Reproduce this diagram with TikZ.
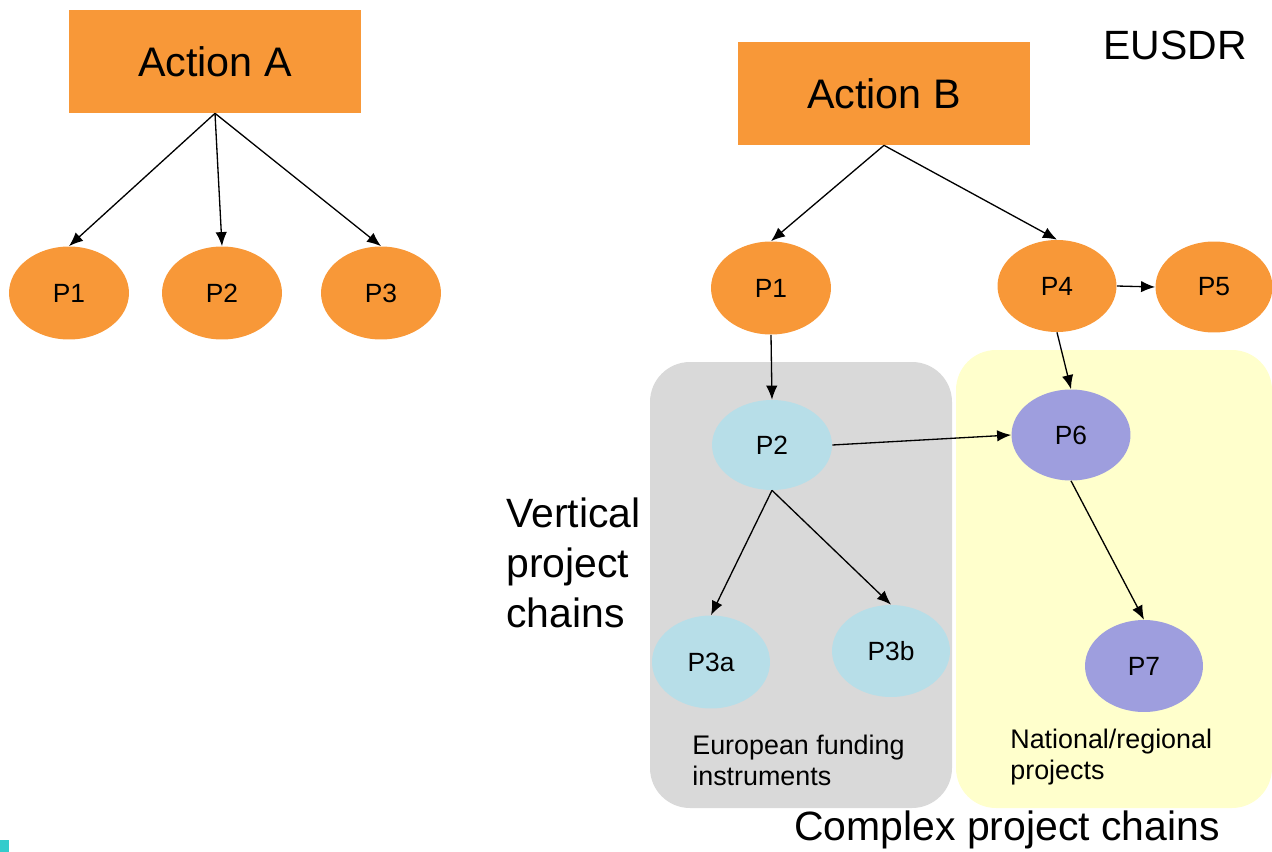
\documentclass[tikz,border=0pt]{standalone}
\usepackage{fontspec}
\setmainfont{Liberation Sans}
\usetikzlibrary{arrows.meta, positioning, shapes.geometric}
\definecolor{actorange}{RGB}{248,152,56}
\definecolor{eugrey}{RGB}{217,217,217}
\definecolor{natyellow}{RGB}{255,255,204}
\definecolor{eucyan}{RGB}{183,222,232}
\definecolor{natpurple}{RGB}{158,158,222}
\definecolor{markcyan}{RGB}{51,204,204}

\begin{document}
\begin{tikzpicture}[x=0.02cm, y=-0.02cm,
    action/.style={fill=actorange, minimum width=5.84cm, minimum height=2.06cm, inner sep=0, font=\fontsize{23.5}{28}\selectfont},
    proj/.style={ellipse, fill=actorange, minimum width=2.4cm, minimum height=1.86cm, inner sep=0, font=\fontsize{15}{18}\selectfont},
    link/.style={-{Latex[length=8pt,width=6.5pt]}, line width=0.75pt},
    big/.style={inner sep=0, font=\fontsize{23.3}{28.3}\selectfont},
    note/.style={align=left, anchor=west, inner sep=0, font=\fontsize{15.3}{17.6}\selectfont}]
    \useasboundingbox (0,0) rectangle (1272,852);

    % Background groups
    \fill[eugrey, rounded corners=0.8cm] (650,362) rectangle (952,808);
    \fill[natyellow, rounded corners=0.8cm] (956,350) rectangle (1272,808);
    \fill[markcyan] (0,840) rectangle (9,852);

    % Action A and its projects
    \node[action] (actA) at (215,61.5) {Action A};
    \node[proj] (p1a) at (69,293) {P1};
    \node[proj] (p2a) at (222,293) {P2};
    \node[proj] (p3a) at (381,293) {P3};
    \draw[link] (actA.south) -- (p1a.north);
    \draw[link] (actA.south) -- (p2a.north);
    \draw[link] (actA.south) -- (p3a.north);

    % Action B and its project chains
    \node[action] (actB) at (884,93.5) {Action B};
    \node[big] (eusdr) at (1175,45) {EUSDR};
    \node[proj] (p1b) at (771,288) {P1};
    \node[proj, minimum width=2.38cm, minimum height=1.84cm] (p4b) at (1057,286) {P4};
    \node[proj, minimum width=2.34cm, minimum height=1.82cm] (p5b) at (1214,287) {P5};
    \node[proj, fill=eucyan, minimum height=1.8cm] (p2b) at (772,445) {P2};
    \node[proj, fill=natpurple, minimum width=2.38cm, minimum height=1.82cm] (p6b) at (1071,435) {P6};
    \node[proj, fill=eucyan, minimum width=2.36cm] (p3ab) at (711,662) {P3a};
    \node[proj, fill=eucyan, minimum width=2.36cm, minimum height=1.84cm] (p3bb) at (891,651) {P3b};
    \node[proj, fill=natpurple, minimum width=2.36cm, minimum height=1.84cm] (p7b) at (1144,666) {P7};

    \draw[link] (actB.south) -- (p1b.north);
    \draw[link] (actB.south) -- (p4b.north);
    \draw[link] (p4b.east) -- (p5b.west);
    \draw[link] (p1b.south) -- (p2b.north);
    \draw[link] (p4b.south) -- (p6b.north);
    \draw[link] (p2b.east) -- (p6b.west);
    \draw[link] (p2b.south) -- (p3ab.north);
    \draw[link] (p2b.south) -- (p3bb.north);
    \draw[link] (p6b.south) -- (p7b.north);

    % Labels
    \node[big, align=left, anchor=west] (vert) at (506,563) {Vertical\\project\\chains};
    \node[note] (eufund) at (692,760) {European funding\\instruments};
    \node[note] (natreg) at (1010,757) {National/regional\\projects};
    \node[big] (complex) at (1007,830) {Complex project chains};
\end{tikzpicture}
\end{document}
